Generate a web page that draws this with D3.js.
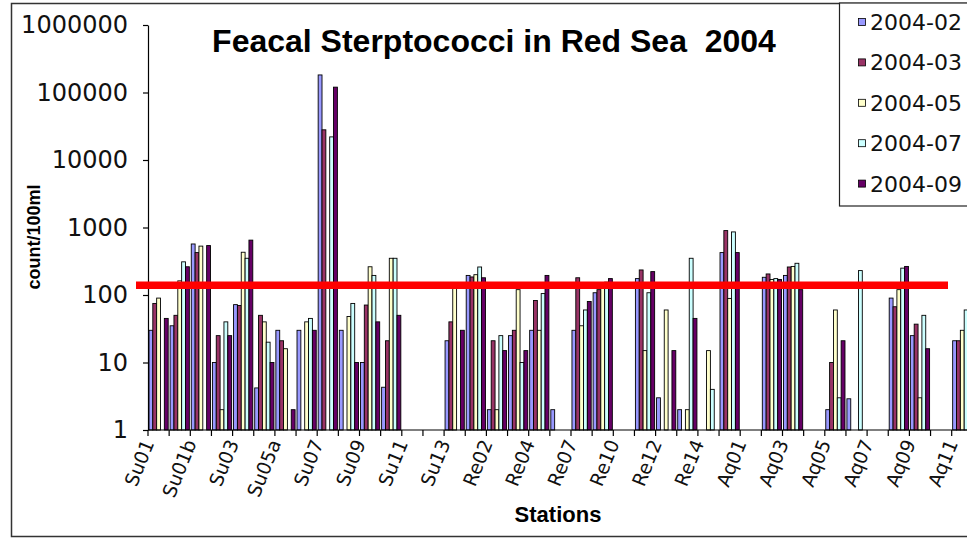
<!DOCTYPE html>
<html>
<head>
<meta charset="utf-8">
<script src="https://cdn.jsdelivr.net/npm/d3@7"></script>
<style>
  html, body { margin: 0; padding: 0; background: #fff; }
  svg { display: block; }
</style>
</head>
<body>
<svg id="chart" width="967" height="539"></svg>
<script>
// Sampling stations (only every other one gets a visible label)
const stations = [
  "Su01", "Su01a", "Su01b", "Su02", "Su03", "Su04", "Su05a", "Su06", "Su07", "Su08",
  "Su09", "Su10", "Su11", "Su12", "Su13", "Re01", "Re02", "Re03", "Re04", "Re05",
  "Re07", "Re08", "Re10", "Re11", "Re12", "Re13", "Re14", "Re15", "Aq01", "Aq02",
  "Aq03", "Aq04", "Aq05", "Aq06", "Aq07", "Aq08", "Aq09", "Aq10", "Aq11", "Aq12"
];
const labelledStations = ["Su01", "Su01b", "Su03", "Su05a", "Su07", "Su09", "Su11", "Su13",
  "Re02", "Re04", "Re07", "Re10", "Re12", "Re14", "Aq01", "Aq03", "Aq05", "Aq07", "Aq09", "Aq11"];

const seriesNames = ["2004-02", "2004-03", "2004-05", "2004-07", "2004-09"];

// Faecal streptococci counts per 100 ml (null = no sample)
const feb2004 = [30, 35, 570, 10, 72, 4.2, 30, 30, 182000, 30,
  10, 4.3, null, null, 21, 195, 2, 25, 30, 2,
  30, 108, null, 175, 3, 2, null, 425, null, 183,
  195, null, 2, 2.9, null, 90, 25, null, 21, null];
const mar2004 = [75, 50, 425, 25, 70, 50, 21, null, 28000, null,
  71, 21, null, null, 40, 185, 21, 30, 83, null,
  180, 120, null, 235, null, null, null, 900, null, 205,
  260, null, 10, null, null, 67, 37, null, 21, null];
const may2004 = [90, 162, 530, 2, 430, 40, 16, 40, null, 48,
  262, 350, null, null, 140, 200, 2, 120, 30, null,
  35, 133, null, 15, 60, 2, 15, 89, null, 170,
  265, null, 60, null, null, 120, 3, null, 30, null];
const jul2004 = [null, 310, null, 40, 350, 20, null, 45, 22000, 75,
  195, 350, null, null, null, 260, 25, 10, 105, null,
  60, 155, null, 108, null, 350, 4, 860, null, 175,
  295, null, 3, 230, null, 250, 50, null, 60, null];
const sep2004 = [45, 262, 540, 25, 650, 10, 2, 30, 120000, 10,
  40, 50, null, null, 30, 180, 15, 15, 195, null,
  80, 175, null, 222, 15, 45, null, 425, null, 170,
  120, null, 21, null, null, 265, 16, null, null, null];

const seriesValues = [feb2004, mar2004, may2004, jul2004, sep2004];
const seriesColors = ["#9999FF", "#993366", "#FFFFCC", "#CCFFFF", "#660066"];

const yTickValues = [1, 10, 100, 1000, 10000, 100000, 1000000];
const guidelineValue = 140;   // reference level marked in red

const titleText = "Feacal Sterptococci in Red Sea  2004";
const yTitle = "count/100ml";
const xTitle = "Stations";

// ---- layout ----
const svg = d3.select("#chart");
const W = 967, H = 539;
const plotLeft = 148, plotTop = 25, plotBottom = 430;
const step = 21.15;
const plotRight = plotLeft + step * stations.length;

const x = d3.scaleBand().domain(stations).range([plotLeft, plotRight]).paddingInner(0).paddingOuter(0);
const xs = d3.scaleBand().domain(d3.range(seriesNames.length)).range([0, x.bandwidth()])
  .paddingInner(0).paddingOuter(0.25);
const y = d3.scaleLog().domain([1, 1000000]).range([plotBottom, plotTop]);

// chart frame
svg.append("rect").attr("x", 11.5).attr("y", 3.5).attr("width", W + 20).attr("height", 533)
  .attr("fill", "#fff").attr("stroke", "#333").attr("stroke-width", 1.5);

// bars
const barData = [];
seriesValues.forEach((vals, si) => {
  vals.forEach((v, ci) => {
    if (v != null && v > 1) barData.push({ station: stations[ci], s: si, v });
  });
});
svg.append("g").selectAll("rect").data(barData).join("rect")
  .attr("x", d => x(d.station) + xs(d.s))
  .attr("width", xs.bandwidth())
  .attr("y", d => y(d.v))
  .attr("height", d => y(1) - y(d.v))
  .attr("fill", d => seriesColors[d.s])
  .attr("stroke", "#000")
  .attr("stroke-width", 0.9);

// y axis
const yAxis = d3.axisLeft(y).tickValues(yTickValues).tickFormat(d3.format("d")).tickSize(5).tickSizeOuter(0);
const gy = svg.append("g").attr("transform", `translate(${plotLeft},0)`).call(yAxis);
gy.select(".domain").attr("stroke", "#000").attr("stroke-width", 1.2);
gy.selectAll(".tick line").attr("stroke", "#000").attr("stroke-width", 1.2);
gy.selectAll(".tick text").attr("x", -20)
  .attr("font-family", "DejaVu Sans").attr("font-size", 24).attr("fill", "#111");

// x axis: ticks between categories
const gx = svg.append("g").attr("transform", `translate(0,${plotBottom})`);
gx.append("line").attr("x1", plotLeft).attr("x2", plotRight).attr("stroke", "#000").attr("stroke-width", 1.2);
gx.selectAll("line.tk").data(stations.concat([null])).join("line").attr("class", "tk")
  .attr("x1", (d, i) => plotLeft + i * x.step()).attr("x2", (d, i) => plotLeft + i * x.step())
  .attr("y1", 0).attr("y2", 6).attr("stroke", "#000").attr("stroke-width", 1.2);
gx.selectAll("text").data(labelledStations).join("text")
  .attr("transform", d => `translate(${x(d) + x.bandwidth() / 2 - 4},13) rotate(-68)`)
  .attr("text-anchor", "end")
  .attr("font-family", "DejaVu Sans").attr("font-size", 19).attr("fill", "#111")
  .text(d => d);

// red guideline
svg.append("line").attr("x1", plotLeft - 12).attr("x2", 948)
  .attr("y1", y(guidelineValue)).attr("y2", y(guidelineValue))
  .attr("stroke", "#FF0000").attr("stroke-width", 7.5);

// titles
svg.append("text").attr("x", 494).attr("y", 52).attr("text-anchor", "middle")
  .style("white-space", "pre")
  .attr("font-family", "Liberation Sans, Arial, sans-serif").attr("font-weight", "bold")
  .attr("font-size", 32).attr("fill", "#000").text(titleText);
svg.append("text").attr("transform", "translate(40,237) rotate(-90)").attr("text-anchor", "middle")
  .attr("font-family", "Liberation Sans, Arial, sans-serif").attr("font-weight", "bold")
  .attr("font-size", 18).attr("fill", "#000").text(yTitle);
svg.append("text").attr("x", 558).attr("y", 522).attr("text-anchor", "middle")
  .attr("font-family", "Liberation Sans, Arial, sans-serif").attr("font-weight", "bold")
  .attr("font-size", 22).attr("fill", "#000").text(xTitle);

// legend
const lg = svg.append("g");
lg.append("rect").attr("x", 839.5).attr("y", 3).attr("width", 200).attr("height", 203)
  .attr("fill", "#fff").attr("stroke", "#222").attr("stroke-width", 1.2);
seriesNames.forEach((name, i) => {
  const cy = 22 + i * 40.4;
  lg.append("rect").attr("x", 858.5).attr("y", cy - 3.5).attr("width", 7).attr("height", 7)
    .attr("fill", seriesColors[i]).attr("stroke", "#000").attr("stroke-width", 0.8);
  lg.append("text").attr("x", 870).attr("y", cy).attr("dy", "0.36em")
    .attr("font-family", "DejaVu Sans").attr("font-size", 22).attr("fill", "#111").text(name);
});
</script>
</body>
</html>
